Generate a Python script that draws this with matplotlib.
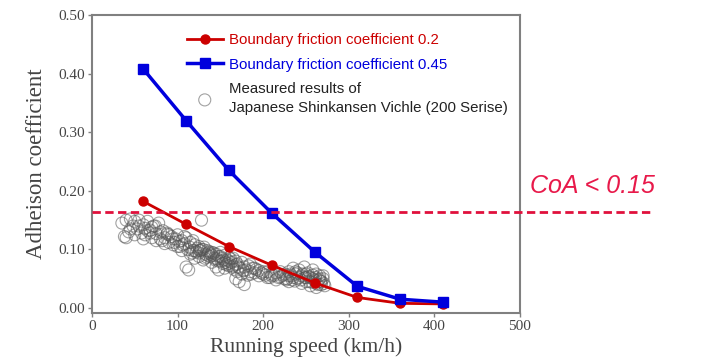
import matplotlib
matplotlib.use("Agg")
import matplotlib.pyplot as plt

# --- model curves ---
speed = [60, 110, 160, 210, 260, 310, 360, 410]
coef_02 = [0.182, 0.143, 0.105, 0.073, 0.043, 0.018, 0.008, 0.007]
coef_045 = [0.408, 0.320, 0.235, 0.162, 0.096, 0.037, 0.015, 0.010]

# --- measured (Shinkansen 200) ---
meas_x = [35, 38, 40, 43, 45, 48, 50, 53, 55, 58, 60, 62, 65, 68, 70, 72, 75, 78, 80, 83,
          85, 88, 90, 93, 95, 98, 100, 103, 105, 108, 110, 112, 115, 118, 120, 123, 125, 128,
          130, 133, 135, 138, 140, 143, 145, 148, 150, 153, 155, 158, 160, 163, 165, 168, 170,
          173, 175, 178, 180, 183, 185, 188, 190, 195, 200, 205, 210, 215, 220, 225, 228, 230,
          233, 235, 238, 240, 242, 245, 248, 250, 252, 255, 258, 260, 262, 264, 266, 268, 270,
          272,
          40, 45, 50, 55, 60, 65, 70, 75, 80, 85, 90, 95, 100, 105, 108, 110, 113, 115, 118,
          120, 125, 130, 135, 140, 145, 148, 150, 155, 160, 165, 168, 170, 172, 175, 178, 182,
          185, 190, 195, 200, 205, 210, 215, 220, 225, 230, 235, 240, 245, 250, 255, 258, 262,
          265, 268, 270,
          120, 125, 128, 132, 136, 140, 144, 148, 152, 156, 160, 164, 168, 230, 234, 238, 242,
          246, 250, 254, 258, 262, 266,
          62, 68, 74, 82, 88, 96, 102, 106, 114, 117, 122, 127, 134, 139, 146, 151, 157, 162,
          166, 171, 177, 186, 192, 198, 203, 208, 213, 218, 223, 227, 232, 237, 244, 249, 253,
          257, 261, 267, 271, 142, 137, 131, 126, 154, 159]
meas_y = [0.145, 0.122, 0.150, 0.130, 0.152, 0.140, 0.148, 0.135, 0.150, 0.128, 0.142, 0.125,
          0.148, 0.133, 0.120, 0.140, 0.127, 0.145, 0.118, 0.132, 0.120, 0.128, 0.112, 0.122,
          0.108, 0.118, 0.125, 0.105, 0.115, 0.110, 0.120, 0.100, 0.112, 0.098, 0.108, 0.102,
          0.094, 0.150, 0.100, 0.092, 0.098, 0.088, 0.095, 0.085, 0.092, 0.080, 0.088, 0.076,
          0.090, 0.082, 0.086, 0.078, 0.072, 0.080, 0.075, 0.068, 0.078, 0.070, 0.065, 0.072,
          0.062, 0.068, 0.060, 0.064, 0.058, 0.062, 0.055, 0.060, 0.053, 0.058, 0.050, 0.062,
          0.055, 0.068, 0.058, 0.050, 0.065, 0.055, 0.070, 0.045, 0.060, 0.052, 0.065, 0.048,
          0.058, 0.040, 0.055, 0.045, 0.050, 0.038,
          0.120, 0.135, 0.125, 0.140, 0.118, 0.132, 0.138, 0.115, 0.130, 0.110, 0.125, 0.118,
          0.105, 0.098, 0.122, 0.070, 0.065, 0.092, 0.115, 0.085, 0.105, 0.082, 0.090, 0.078,
          0.070, 0.065, 0.095, 0.068, 0.072, 0.085, 0.050, 0.062, 0.045, 0.058, 0.040, 0.056,
          0.075, 0.068, 0.055, 0.062, 0.052, 0.058, 0.048, 0.062, 0.050, 0.045, 0.052, 0.060,
          0.042, 0.058, 0.038, 0.050, 0.035, 0.048, 0.040, 0.055,
          0.098, 0.088, 0.100, 0.085, 0.094, 0.090, 0.082, 0.088, 0.085, 0.078, 0.080, 0.070,
          0.074, 0.055, 0.048, 0.062, 0.052, 0.058, 0.052, 0.045, 0.056, 0.042, 0.050,
          0.136, 0.128, 0.140, 0.115, 0.126, 0.112, 0.114, 0.108, 0.104, 0.094, 0.096, 0.098,
          0.087, 0.092, 0.084, 0.080, 0.074, 0.084, 0.066, 0.070, 0.064, 0.058, 0.066, 0.060,
          0.056, 0.052, 0.056, 0.052, 0.056, 0.048, 0.058, 0.046, 0.048, 0.052, 0.054, 0.044,
          0.052, 0.046, 0.042, 0.094, 0.096, 0.104, 0.098, 0.082, 0.076]

limit_y = 0.164
limit_x = [0, 654]

x_ticks = [0, 100, 200, 300, 400, 500]
y_ticks = [0.0, 0.1, 0.2, 0.3, 0.4, 0.5]

RED = "#cc0000"
BLUE = "#0000dd"
SERIF = "Liberation Serif"

fig = plt.figure(figsize=(7.07, 3.61), dpi=100)
ax = fig.add_axes([0.130, 0.133, 0.6055, 0.825])

ax.scatter(meas_x, meas_y, s=75, facecolors="none", edgecolors="#555555",
           linewidths=0.8, alpha=0.55, zorder=2,
           label="Measured results of\nJapanese Shinkansen Vichle (200 Serise)")
ax.plot(speed, coef_02, "-o", color=RED, lw=2, ms=6.5, zorder=3,
        label="Boundary friction coefficient 0.2")
ax.plot(speed, coef_045, "-s", color=BLUE, lw=2.5, ms=7, zorder=3,
        label="Boundary friction coefficient 0.45")

# limit line runs past the right spine
ax.plot(limit_x, [limit_y, limit_y], color="#e0103c", lw=2, dashes=(3, 1.6),
        clip_on=False, zorder=4)
fig.text(530 / 707, 1 - 186 / 361, "CoA < 0.15", color="#e8194a", fontsize=18,
         style="italic", family="Liberation Sans", va="center", ha="left")

ax.set_xlim(0, 500)
ax.set_ylim(-0.0085, 0.50)
ax.set_xticks(x_ticks)
ax.set_yticks(y_ticks)
ax.set_yticklabels([f"{v:.2f}" for v in y_ticks])
for lab in ax.get_xticklabels() + ax.get_yticklabels():
    lab.set_family(SERIF)
    lab.set_fontsize(11)
    lab.set_color("#444444")
ax.tick_params(length=3, width=1, color="#808080", pad=2)
for sp in ax.spines.values():
    sp.set_color("#808080")
    sp.set_linewidth(1.5)

ax.set_xlabel("Running speed (km/h)", family=SERIF, fontsize=15.5, color="#444444",
              labelpad=3)
ax.set_ylabel("Adheison coefficient", family=SERIF, fontsize=16.5, color="#444444",
              labelpad=8)

handles, labels = ax.get_legend_handles_labels()
order = [1, 2, 0]
leg = ax.legend([handles[i] for i in order], [labels[i] for i in order],
                loc="upper left", bbox_to_anchor=(0.19, 0.985), frameon=False,
                prop={"family": "Liberation Sans", "size": 10.8},
                handlelength=2.4, handletextpad=0.4, labelspacing=0.7)
for txt, c in zip(leg.get_texts(), [RED, BLUE, "#222222"]):
    txt.set_color(c)
leg.get_texts()[2].set_linespacing(1.4)

fig.savefig("out.png", dpi=100)
